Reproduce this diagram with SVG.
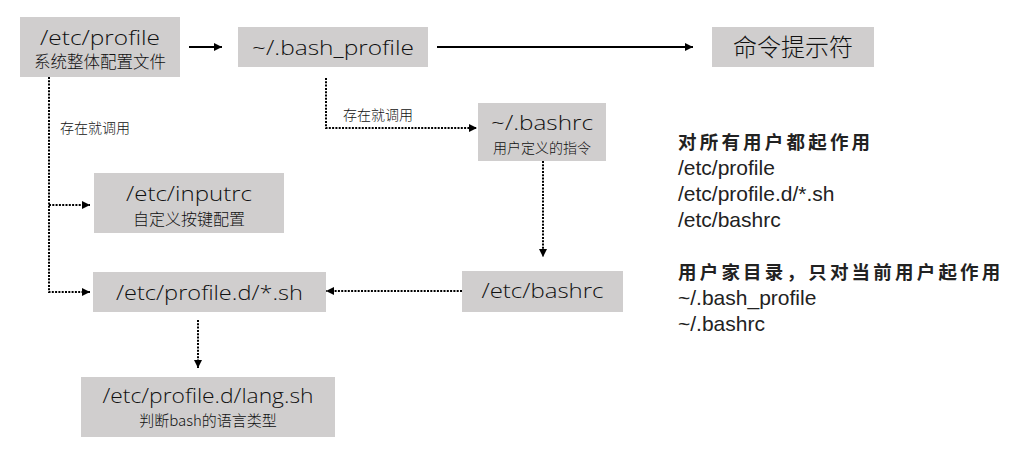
<svg xmlns="http://www.w3.org/2000/svg" width="1020" height="453" viewBox="0 0 1020 453">
<style>
.box{fill:#d0cece;}
.t{font-family:"Open Sans","Noto Sans","Noto Sans CJK SC",sans-serif;font-weight:300;font-size:21px;fill:#111;text-anchor:middle;}
.s{font-family:"Noto Sans CJK SC","Noto Sans",sans-serif;font-weight:300;fill:#111;text-anchor:middle;}
.lbl{font-family:"Noto Sans CJK SC",sans-serif;font-weight:300;font-size:14px;fill:#111;}
.solid{fill:none;stroke:#000;stroke-width:2;}
.dot{fill:none;stroke:#000;stroke-width:2;stroke-dasharray:2 1.3;}
.h{font-family:"Noto Sans CJK SC",sans-serif;font-weight:bold;font-size:18.5px;letter-spacing:3.2px;fill:#222;}
.r{font-family:"Liberation Sans",Arial,sans-serif;font-size:21px;fill:#222;}
</style>
<defs>
<marker id="ah" markerUnits="userSpaceOnUse" markerWidth="8" markerHeight="8" refX="8" refY="4" orient="auto">
<path d="M0,0 L8,4 L0,8 z" fill="#000"/>
</marker>
</defs>
<rect width="1020" height="453" fill="#fff"/>

<g id="connectors">
<path class="solid" d="M189,47 H222" marker-end="url(#ah)"/>
<path class="solid" d="M437,47 H693" marker-end="url(#ah)"/>
<path class="dot" d="M326,78 V128 H477" marker-end="url(#ah)"/>
<path class="dot" d="M49,77 V292 H90" marker-end="url(#ah)"/>
<path class="dot" d="M49,205 H90" marker-end="url(#ah)"/>
<path class="dot" d="M543,161 V257" marker-end="url(#ah)"/>
<path class="dot" d="M462,291 H326" marker-end="url(#ah)"/>
<path class="dot" d="M198,320 V368" marker-end="url(#ah)"/>
<text class="lbl" x="60" y="133">存在就调用</text>
<text class="lbl" x="343" y="120">存在就调用</text>
</g>

<g id="etc-profile">
<rect class="box" x="20" y="17" width="160" height="60"/>
<text class="t" x="100" y="45" textLength="120" lengthAdjust="spacingAndGlyphs">/etc/profile</text>
<text class="s" x="100" y="68" font-size="16.5">系统整体配置文件</text>
</g>

<g id="bash-profile">
<rect class="box" x="238" y="27" width="190" height="40"/>
<text class="t" x="333" y="55" textLength="162" lengthAdjust="spacingAndGlyphs">~/.bash_profile</text>
</g>

<g id="prompt">
<rect class="box" x="712" y="27" width="162" height="40"/>
<text class="s" x="793" y="56" font-size="24">命令提示符</text>
</g>

<g id="bashrc-user">
<rect class="box" x="478" y="103" width="128" height="58"/>
<text class="t" x="542" y="130" textLength="102" lengthAdjust="spacingAndGlyphs">~/.bashrc</text>
<text class="s" x="542" y="153" font-size="14">用户定义的指令</text>
</g>

<g id="inputrc">
<rect class="box" x="94" y="173" width="190" height="60"/>
<text class="t" x="189" y="201" textLength="126" lengthAdjust="spacingAndGlyphs">/etc/inputrc</text>
<text class="s" x="189" y="225" font-size="16">自定义按键配置</text>
</g>

<g id="profile-d">
<rect class="box" x="93" y="272" width="233" height="40"/>
<text class="t" x="209.5" y="300" textLength="187" lengthAdjust="spacingAndGlyphs">/etc/profile.d/*.sh</text>
</g>

<g id="etc-bashrc">
<rect class="box" x="462" y="271" width="161" height="41"/>
<text class="t" x="542.5" y="298" textLength="122" lengthAdjust="spacingAndGlyphs">/etc/bashrc</text>
</g>

<g id="lang-sh">
<rect class="box" x="81" y="377" width="254" height="60"/>
<text class="t" x="208" y="403" textLength="211" lengthAdjust="spacingAndGlyphs">/etc/profile.d/lang.sh</text>
<text class="s" x="208" y="426" font-size="15">判断bash的语言类型</text>
</g>

<g id="notes">
<text class="h" x="678" y="149">对所有用户都起作用</text>
<text class="r" x="678" y="175">/etc/profile</text>
<text class="r" x="678" y="201">/etc/profile.d/*.sh</text>
<text class="r" x="678" y="227">/etc/bashrc</text>
<text class="h" x="678" y="279">用户家目录，只对当前用户起作用</text>
<text class="r" x="678" y="305">~/.bash_profile</text>
<text class="r" x="678" y="331">~/.bashrc</text>
</g>
</svg>
